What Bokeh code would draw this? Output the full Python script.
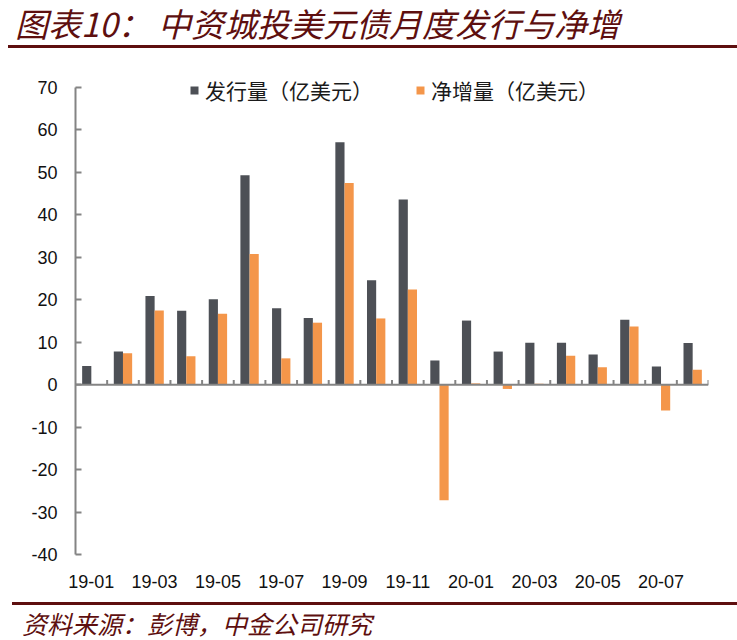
from bokeh.plotting import figure
from bokeh.models import Range1d, FixedTicker, Span, Legend, Div
from bokeh.layouts import column
from bokeh.embed import file_html
from bokeh.resources import INLINE

months = ["19-01", "19-02", "19-03", "19-04", "19-05", "19-06", "19-07", "19-08",
          "19-09", "19-10", "19-11", "19-12", "20-01", "20-02", "20-03", "20-04",
          "20-05", "20-06", "20-07", "20-08"]
issuance = [4.4, 7.8, 20.9, 17.4, 20.1, 49.3, 18.0, 15.7, 57.1, 24.6, 43.6, 5.7,
            15.1, 7.8, 9.9, 9.9, 7.1, 15.3, 4.3, 9.8]
net = [0.0, 7.4, 17.5, 6.7, 16.7, 30.8, 6.2, 14.6, 47.5, 15.6, 22.4, -27.2,
       0.3, -1.0, 0.2, 6.8, 4.1, 13.7, -6.1, 3.5]
y_ticks = [-40, -30, -20, -10, 0, 10, 20, 30, 40, 50, 60, 70]
series_names = ["发行量（亿美元）", "净增量（亿美元）"]
title_text = "图表10： 中资城投美元债月度发行与净增"
source_text = "资料来源：彭博，中金公司研究"

GREY = "#4d5056"
ORANGE = "#f4964a"
AXIS = "#848484"
RED = "#5e0f0f"

W = 737
p = figure(width=W, height=552, output_backend="svg", toolbar_location=None,
           x_range=Range1d(0, len(months)), y_range=Range1d(-40, 74),
           min_border_left=75, min_border_right=29, min_border_top=22,
           min_border_bottom=46)
p.outline_line_color = None
p.xgrid.visible = False
p.ygrid.visible = False
p.background_fill_color = "white"
p.border_fill_color = "white"

n = len(months)
centers = [i + 0.5 for i in range(n)]
bw = 0.29
g = p.vbar(x=[c - bw / 2 for c in centers], top=issuance, width=bw, bottom=0,
           fill_color=GREY, line_color=None)
o = p.vbar(x=[c + bw / 2 for c in centers], top=net, width=bw, bottom=0,
           fill_color=ORANGE, line_color=None)

# zero axis line and category boundary ticks
p.add_layout(Span(location=0, dimension="width", line_color=AXIS, line_width=2))
bounds = list(range(1, n + 1))
p.segment(x0=bounds, y0=[0] * n, x1=bounds, y1=[1.1] * n, line_color=AXIS, line_width=2)

# x axis (labels only)
xa = p.xaxis[0]
xa.ticker = FixedTicker(ticks=centers[::2])
xa.major_label_overrides = {centers[i]: months[i] for i in range(0, n, 2)}
xa.axis_line_color = None
xa.major_tick_line_color = None
xa.minor_tick_line_color = None
xa.major_label_standoff = 14
xa.major_label_text_font = "Liberation Sans"
xa.major_label_text_font_size = "18px"
xa.major_label_text_color = "#111111"

ya = p.yaxis[0]
ya.ticker = FixedTicker(ticks=y_ticks)
ya.bounds = (y_ticks[0], y_ticks[-1])
ya.major_label_overrides = {t: str(t) for t in y_ticks}
ya.axis_line_color = AXIS
ya.axis_line_width = 2
ya.major_tick_line_color = AXIS
ya.major_tick_line_width = 2
ya.major_tick_in = 6
ya.major_tick_out = 0
ya.minor_tick_line_color = None
ya.major_label_standoff = 18
ya.major_label_text_font = "Liberation Sans"
ya.major_label_text_font_size = "18px"
ya.major_label_text_color = "#111111"

legend = Legend(items=[(series_names[0], [g]), (series_names[1], [o])],
                orientation="horizontal", location=(114, 449),
                glyph_width=10, glyph_height=10, label_height=26,
                label_standoff=6, spacing=42, padding=0, margin=0,
                label_text_font="Noto Sans CJK SC", label_text_font_size="21px",
                label_text_color="#1a1a1a", border_line_color=None,
                background_fill_alpha=0)
p.add_layout(legend)

font = "'Noto Sans CJK SC', sans-serif"
head = Div(width=W, height=48, margin=(0, 0, 0, 0),
           text=(f'<div style="margin-left:8px;width:729px;height:45px;'
                 f'border-bottom:3px solid {RED};box-sizing:content-box;">'
                 f'<div style="padding-left:7px;padding-top:6px;font-family:{font};'
                 f'font-style:italic;font-size:33px;line-height:34px;color:{RED};'
                 f'">{title_text}</div></div>'))
foot = Div(width=W, height=40, margin=(0, 0, 0, 0),
           text=(f'<div style="margin-left:12px;width:725px;margin-top:2px;'
                 f'border-top:3px solid {RED};">'
                 f'<div style="padding-left:10px;padding-top:3px;font-family:{font};'
                 f'font-style:italic;font-size:25px;line-height:30px;color:{RED};'
                 f'">{source_text}</div></div>'))

layout = column(head, p, foot, spacing=0)
open("out.html", "w").write(file_html(layout, INLINE))
